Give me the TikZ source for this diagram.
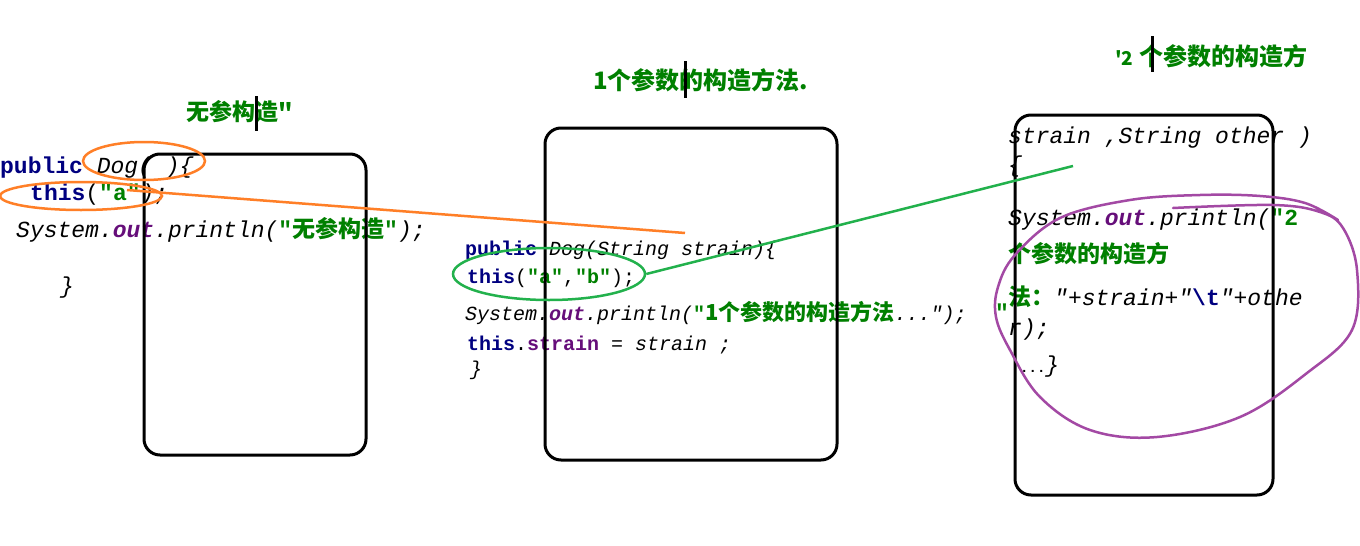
\documentclass[tikz,border=0pt]{standalone}
\usepackage{fontspec}
\usetikzlibrary{shapes.geometric}
\newfontfamily\jmono{Liberation Mono}
\newfontfamily\jcjk{Noto Sans CJK SC}
\definecolor{kwc}{HTML}{000080}
\definecolor{fldc}{HTML}{660E7A}
\definecolor{strc}{HTML}{008000}
\definecolor{orangec}{HTML}{FF7F27}
\definecolor{greenc}{HTML}{22B14C}
\definecolor{purplec}{HTML}{A349A4}
\newcommand\jkw[1]{{\bfseries\color{kwc}#1}}
\newcommand\jit[1]{{\itshape #1}}
\newcommand\jfld[1]{{\bfseries\itshape\color{fldc}#1}}
\newcommand\jfldb[1]{{\bfseries\color{fldc}#1}}
\newcommand\jstr[1]{{\bfseries\color{strc}#1}}
\newcommand\jzh[1]{{\jcjk\bfseries\color{strc}#1}}
\tikzset{
  codetxt/.style={anchor=base west, inner sep=0pt, font=\jmono\fontsize{23}{28}\selectfont},
  codesmall/.style={anchor=base west, inner sep=0pt, font=\jmono\fontsize{20}{24}\selectfont},
  titletxt/.style={anchor=base west, inner sep=0pt, text=strc, font=\jcjk\bfseries\fontsize{23}{28}\selectfont},
  framebox/.style={draw=black, line width=3pt, rounded corners=16pt, inner sep=0pt},
  cursorline/.style={draw=black, line width=3pt},
  ringorange/.style={ellipse, draw=orangec, line width=2.5pt, inner sep=0pt},
  ringgreen/.style={ellipse, draw=greenc, line width=2.5pt, inner sep=0pt},
  linkorange/.style={draw=orangec, line width=2.5pt},
  linkgreen/.style={draw=greenc, line width=2.5pt},
  scribble/.style={draw=purplec, line width=2.5pt, line cap=round, line join=round},
}
\begin{document}
\begin{tikzpicture}[x=1pt,y=-1pt]
\useasboundingbox[fill=white] (0,0) rectangle (1360,546);

% titles
\node[titletxt] (t1) at (186,120) {无参构造"};
\node[titletxt, font=\jcjk\bfseries\fontsize{24}{28}\selectfont] (t2) at (593,89) {1个参数的构造方法.};
\node[titletxt, font=\jcjk\bfseries\fontsize{24}{28}\selectfont] (t3) at (1115,65) {{\fontsize{19}{22}\selectfont '2}\hspace{6pt}个参数的构造方};
\draw[cursorline] (256,96) -- (256,131);
\draw[cursorline] (685,61) -- (685,98);
\draw[cursorline] (1152,36) -- (1152,72);

% code 1
\node[codetxt] (c1a) at (0,173) {\jkw{public} \jit{Dog( )\{}};
\node[codetxt] (c1b) at (30,200) {\jkw{this}(\jstr{"a"}\jit{);}};
\node[codetxt] (c1c) at (16,237) {\jit{System.}\jfld{out}\jit{.println(}\jstr{"}\jzh{无参构造}\jstr{"}\jit{);}};
\node[codetxt] (c1d) at (60,293) {\jit{\}}};

% code 2
\node[codesmall] (c2a) at (465,255) {\jkw{public} \jit{Dog(String strain)\{}};
\node[codesmall] (c2b) at (467,283) {\jkw{this}(\jstr{"a"},\jstr{"b"});};
\node[codesmall] (c2c) at (465,320) {\jit{System.}\jfld{out}\jit{.println(}\jstr{"}{\fontsize{22}{24}\selectfont\jzh{1个参数的构造方法}}\jit{...");}};
\node[codesmall] (c2d) at (467,350) {\jkw{this}.\jfldb{strain} = \jit{strain ;}};
\node[codesmall] (c2e) at (470,375) {\jit{\}}};

% code 3
\node[codetxt] (c3a) at (1008,143) {\jit{strain ,String other )}};
\node[codetxt] (c3b) at (1008,172) {\jit{\{}};
\node[codetxt] (c3c) at (1008,225) {\jit{System.}\jfld{out}\jit{.println(}\jstr{"2}};
\node[codetxt] (c3d) at (1008,262) {\jzh{个参数的构造方}};
\node[codetxt] (c3e) at (1008,305) {\jzh{法：}\jit{"+strain+"}\jkw{\textbackslash t}\jit{"+othe}};
\node[codetxt] (c3q) at (995,320) {\jstr{"}};
\node[codetxt] (c3f) at (1008,335) {\jit{r);}};
\node[codetxt] (c3g) at (1020,372) {{\bfseries\fontsize{14}{16}\selectfont ...}\jit{\}}};

% frames
\node[framebox, minimum width=222pt, minimum height=301pt] (b1) at (255,304.5) {};
\node[framebox, minimum width=292pt, minimum height=332pt] (b2) at (691,294) {};
\node[framebox, minimum width=258pt, minimum height=380pt] (b3) at (1144,305) {};

% annotations
\node[ringorange, minimum width=122pt, minimum height=38pt] (e1) at (144,161) {};
\node[ringorange, minimum width=162pt, minimum height=28pt] (e2) at (81,196) {};
\node[ringgreen, minimum width=192pt, minimum height=52pt] (e3) at (549,274) {};
\coordinate (o1) at (127,190);
\coordinate (o2) at (685,233);
\draw[linkorange] (o1) -- (o2);
\coordinate (g2) at (1073,166);
\draw[linkgreen] (e3.east) -- (g2);
\draw[scribble] plot[smooth, tension=0.6] coordinates {(1173,208) (1273,205) (1320,212) (1343,228) (1357,270) (1352,330) (1307,373) (1240,417) (1157,437) (1090,430) (1040,397) (1010,350) (996,317) (998,287) (1015,255) (1060,218) (1130,200) (1200,195) (1260,196) (1305,203) (1338,220)};
\end{tikzpicture}
\end{document}
